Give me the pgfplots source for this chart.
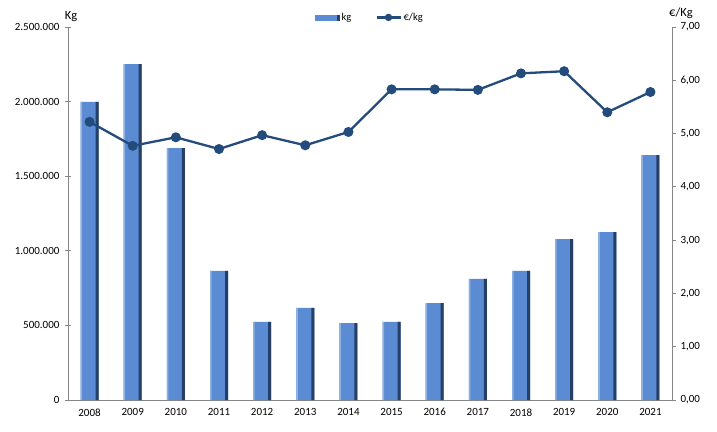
\documentclass[border=0pt]{standalone}
\usepackage{fontspec}
\setmainfont{Carlito}
\usepackage{pgfplots}
\pgfplotsset{compat=1.18}
\definecolor{barmid}{HTML}{5B8BD2}
\definecolor{barlight}{HTML}{8DB0E2}
\definecolor{bardark}{HTML}{253F66}
\definecolor{linec}{HTML}{234B7C}
\definecolor{axisgray}{HTML}{868686}
\pgfplotsset{myline legend/.style={legend image code/.code={\draw[mark repeat=2,mark phase=2,##1, mark size=2.5pt] plot coordinates {(0pt,0pt) (12pt,0pt) (24pt,0pt)};}}}
\pgfplotstableread{
x kg
0 1998000
1 2252000
2 1689000
3 865000
4 523000
5 617000
6 516000
7 523000
8 650000
9 811000
10 865000
11 1079000
12 1126000
13 1642000
}\kgdata
\pgfplotstableread{
x eur
0 5.22
1 4.77
2 4.93
3 4.71
4 4.97
5 4.78
6 5.03
7 5.83
8 5.83
9 5.82
10 6.13
11 6.17
12 5.40
13 5.78
}\eurdata
\begin{document}
\begin{tikzpicture}[font=\fontsize{11}{13}\selectfont]
\useasboundingbox (-68pt,-31pt) rectangle (649pt,400pt);
\begin{axis}[
  at={(0,0)}, anchor=south west, scale only axis,
  width=604pt, height=373pt,
  xmin=-0.5, xmax=13.5, ymin=0, ymax=2500000,
  ytick={0,500000,1000000,1500000,2000000,2500000},
  xtick={0,...,13},
  xticklabels={2008,2009,2010,2011,2012,2013,2014,2015,2016,2017,2018,2019,2020,2021},
  axis x line*=bottom, axis y line*=left,
  axis line style={axisgray, line width=0.8pt, -},
  xtick style={draw=none},
  ytick style={axisgray, line width=0.8pt},
  tick align=center, major tick length=6pt,
  scaled y ticks=false,
  clip mode=individual,
  yticklabel style={xshift=-2pt, /pgf/number format/fixed, /pgf/number format/precision=0, /pgf/number format/1000 sep={.}, /pgf/number format/assume math mode=true},
  xticklabel style={yshift=-2pt},
]
\addplot[ybar, bar width=18pt, draw=none, fill=barmid] table[x=x, y=kg] {\kgdata};
\addplot[ybar, bar width=1.5pt, bar shift=-8.25pt, draw=none, fill=barlight] table[x=x, y=kg] {\kgdata};
\addplot[ybar, bar width=3pt, bar shift=7.5pt, draw=none, fill=bardark] table[x=x, y=kg] {\kgdata};
\node[anchor=south, font=\fontsize{12.5}{14}\selectfont] at (rel axis cs:0,1) [xshift=3pt, yshift=2pt] {Kg};
\end{axis}
\begin{axis}[
  at={(0,0)}, anchor=south west, scale only axis,
  width=604pt, height=373pt,
  xmin=-0.5, xmax=13.5, ymin=0, ymax=7,
  ytick={0,1,2,3,4,5,6,7},
  axis y line*=right, axis x line=none,
  axis line style={axisgray, line width=0.8pt, -},
  ytick style={axisgray, line width=0.8pt},
  tick align=outside, major tick length=4pt,
  clip mode=individual,
  yticklabel style={xshift=1pt, /pgf/number format/fixed, /pgf/number format/fixed zerofill, /pgf/number format/precision=2, /pgf/number format/use comma, /pgf/number format/assume math mode=true},
  legend style={at={(0.5,1)}, anchor=south, yshift=1pt, draw=none, fill=none, legend columns=2,
    /tikz/every even column/.append style={column sep=22pt}, font=\fontsize{10.5}{12}\selectfont},
]
\addlegendimage{legend image code/.code={\fill[barmid] (0pt,-2.5pt) rectangle (24pt,2.5pt); \fill[bardark] (22pt,-2.5pt) rectangle (24pt,2.5pt);}}
\addlegendentry{kg}
\addplot[linec, line width=2.3pt, mark=*, mark size=3.8pt, mark options={fill=linec}, myline legend]
  table[x=x, y=eur] {\eurdata};
\addlegendentry{€/kg}
\node[anchor=south, font=\fontsize{12.5}{14}\selectfont] at (rel axis cs:1,1) [xshift=9pt, yshift=5pt] {€/Kg};
\end{axis}
\end{tikzpicture}
\end{document}
